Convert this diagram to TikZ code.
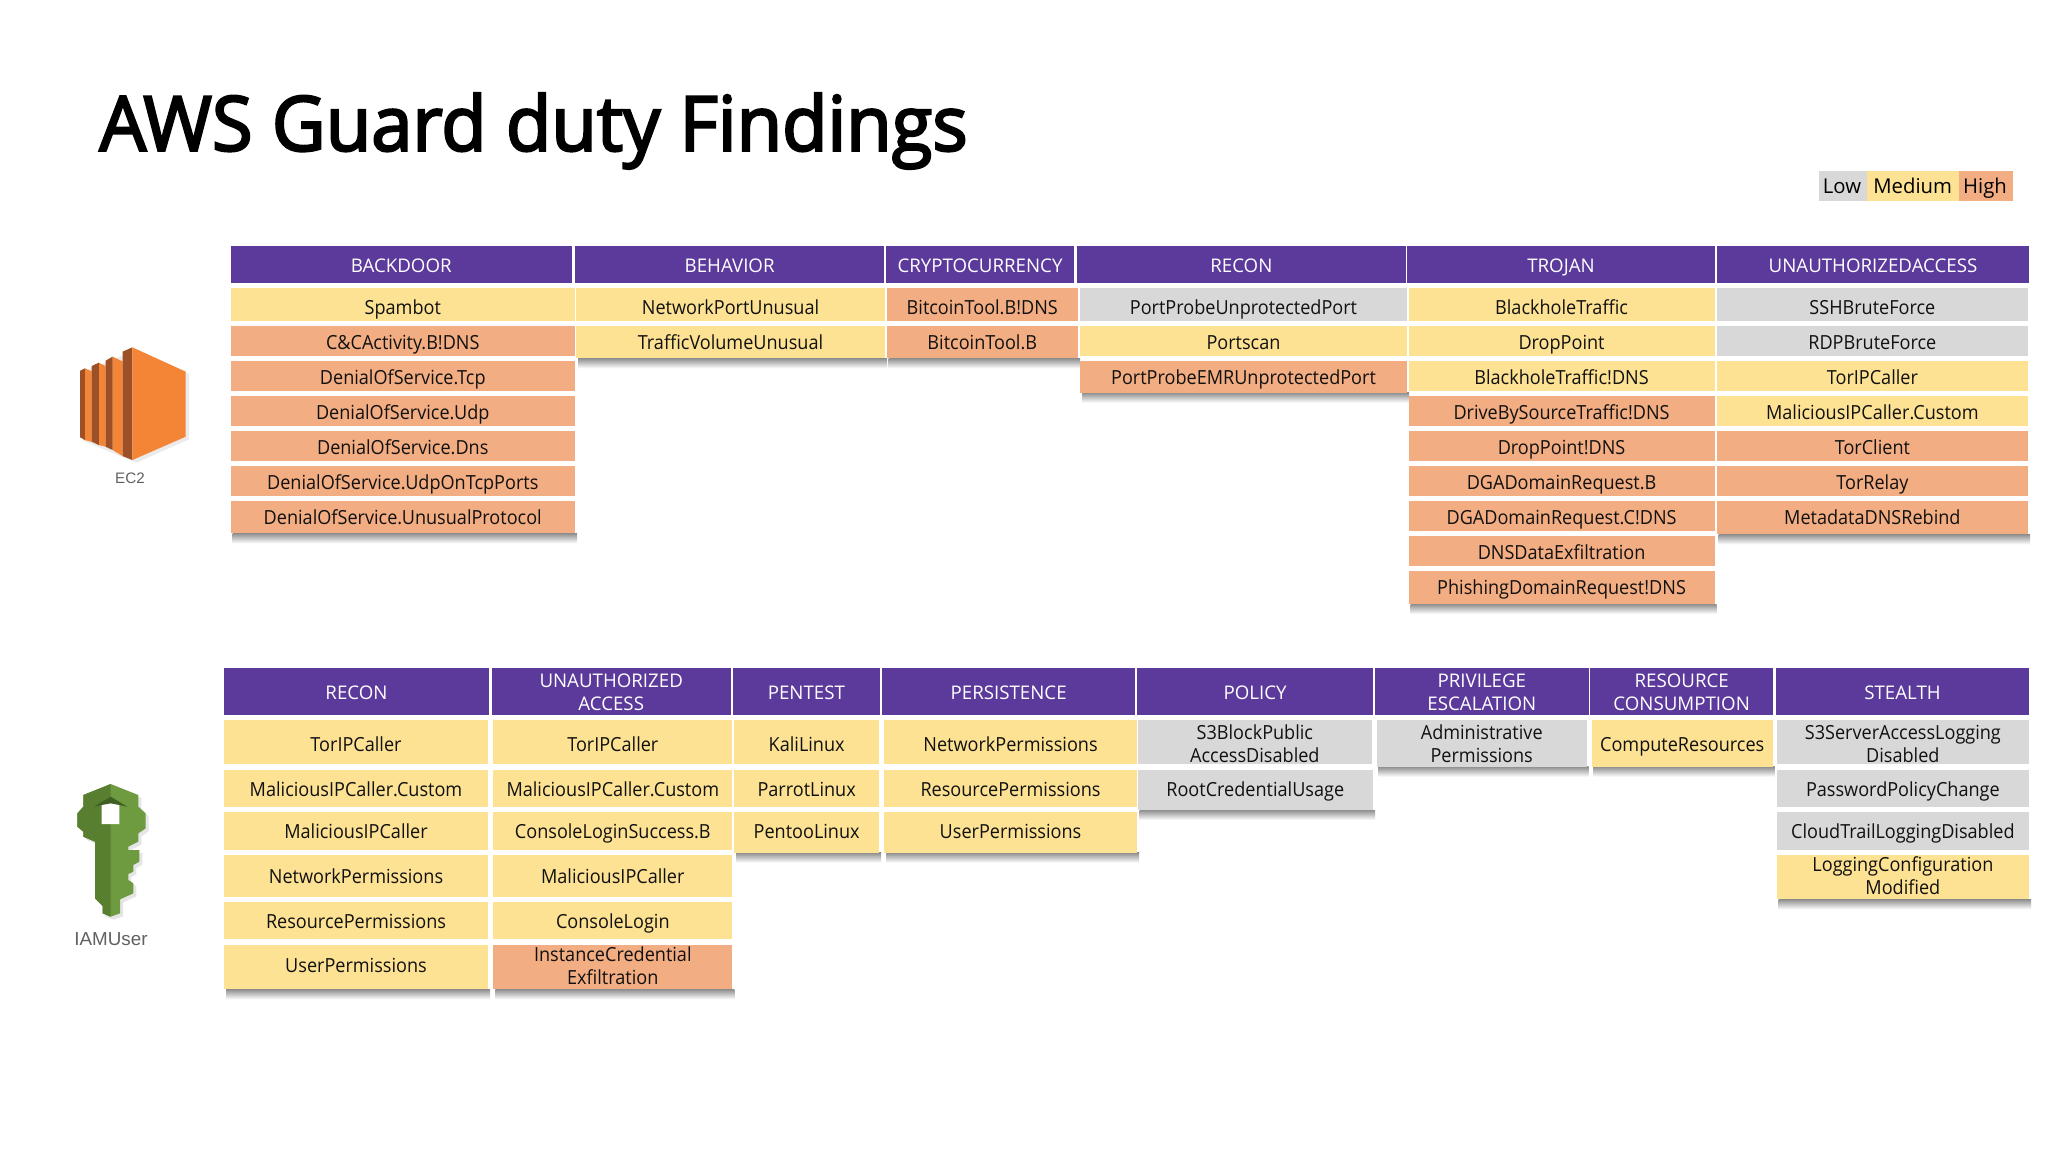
\documentclass[tikz,border=0pt]{standalone}
\usepackage{fontspec}
\setmainfont{Open Sans}[FakeStretch=0.93]
\newfontfamily\titlefont{Open Sans}[FakeStretch=0.975,FakeBold=3]
\newfontfamily\widefont{Open Sans}[FakeStretch=0.995]
\newfontfamily\iconfont{Liberation Sans}
\definecolor{hdr}{HTML}{5C3A9C}
\definecolor{low}{HTML}{D8D8D9}
\definecolor{med}{HTML}{FDE293}
\definecolor{high}{HTML}{F3AD82}
\definecolor{ink}{HTML}{111111}
\definecolor{ecface}{HTML}{F58536}
\definecolor{ecdark}{HTML}{9D5025}
\definecolor{keylight}{HTML}{6E9B3F}
\definecolor{keydark}{HTML}{577F2F}
\definecolor{keyshade}{HTML}{3F5F23}
\tikzset{
  hdrtext/.style={anchor=base,inner sep=0pt,align=center,text=white,font=\widefont\fontsize{9.4}{11.5}\selectfont},
  celltext/.style={anchor=base,inner sep=0pt,align=center,text=ink,font=\fontsize{9.72}{11.4}\selectfont},
  legendtext/.style={anchor=base,inner sep=0pt,text=black,font=\widefont\fontsize{10.2}{12}\selectfont},
  icontext/.style={anchor=base,inner sep=0pt,text=black!62,font=\iconfont\fontsize{#1}{#1}\selectfont},
}
% name, x1, x2, top, bottom, last-line baseline, text
\newcommand{\Hdr}[7]{%
  \fill[hdr] (#2,#4) rectangle (#3,#5);
  \node[hdrtext] (#1) at ({(#2+#3)/2},#6) {#7};}
% shadow under x1--x2 at y
\newcommand{\Shadow}[3]{%
  \shade[top color=black!44,bottom color=white] (#1+2,#3) rectangle (#2+2,#3+10);}
% name, x1, x2, last colour, last bottom, rows
\newcommand{\TopCol}[6]{%
  \Shadow{#2}{#3}{#5}
  \fill[#4] (#2,#5-6) rectangle (#3,#5);
  \foreach \idx/\clr/\lbl in {#6}{%
    \pgfmathsetmacro{\ya}{{288.3,326,361,396,431,466,501,536,571}[\idx-1]}
    \pgfmathsetmacro{\yb}{{321,356,391,426,461,496,531,566,601}[\idx-1]}
    \pgfmathsetmacro{\yc}{{314.3,349.3,384.3,419.3,454.3,489.3,524.3,559.3,594.3}[\idx-1]}
    \fill[\clr] (#2,\ya) rectangle (#3,\yb);
    \node[celltext] (#1-\idx) at ({(#2+#3)/2},\yc) {\lbl};
  }}
\newcommand{\BotCol}[6]{%
  \Shadow{#2}{#3}{#5}
  \fill[#4] (#2,#5-6) rectangle (#3,#5);
  \foreach \idx/\clr/\lbl in {#6}{%
    \pgfmathsetmacro{\ya}{{720,769.7,812,855,902,945}[\idx-1]}
    \pgfmathsetmacro{\yb}{{764.3,806.7,850,896.7,939,989.3}[\idx-1]}
    \pgfmathsetmacro{\yc}{{751,796,838.3,883.3,928.3,972.7}[\idx-1]}
    \fill[\clr] (#2,\ya) rectangle (#3,\yb);
    \node[celltext] (#1-\idx) at ({(#2+#3)/2},\yc) {\lbl};
  }}
% name, x1, x2, colour, top, bottom, last-line baseline, two lines
\newcommand{\TwoLine}[8]{%
  \fill[#4] (#2,#5) rectangle (#3,#6);
  \node[celltext] (#1) at ({(#2+#3)/2},#7) {#8};}
\begin{document}
\begin{tikzpicture}[x=0.5pt,y=-0.5pt]
\useasboundingbox (0,0) rectangle (2048,1152);
\fill[white] (0,0) rectangle (2048,1152);

\node[anchor=base west,inner sep=0pt,text=black,font=\titlefont\fontsize{38}{38}\selectfont] (title) at (99,150.7) {AWS Guard duty Findings};

% legend
\fill[low] (1819,170.7) rectangle (1867,201);
\fill[med] (1867,170.7) rectangle (1959,201);
\fill[high] (1959,170.7) rectangle (2012.7,201);
\node[legendtext] (lgLow) at (1842,193.3) {Low};
\node[legendtext] (lgMed) at (1912.7,193.3) {Medium};
\node[legendtext] (lgHigh) at (1985,193.3) {High};

% top headers
\Hdr{hBack}{230.5}{572}{245.7}{283.3}{272}{BACKDOOR}
\Hdr{hBeh}{575}{884.3}{245.7}{283.3}{272}{BEHAVIOR}
\Hdr{hCry}{886}{1074}{245.7}{283.3}{272}{CRYPTOCURRENCY}
\Hdr{hRec}{1077}{1405.7}{245.7}{283.3}{272}{RECON}
\Hdr{hTro}{1407}{1715}{245.7}{283.3}{272}{TROJAN}
\Hdr{hUna}{1717}{2029}{245.7}{283.3}{272}{UNAUTHORIZEDACCESS}

% top columns
\TopCol{back}{230.5}{575}{high}{533.3}{1/med/Spambot,2/high/C\&CActivity.B!DNS,3/high/DenialOfService.Tcp,4/high/DenialOfService.Udp,5/high/DenialOfService.Dns,6/high/DenialOfService.UdpOnTcpPorts,7/high/DenialOfService.UnusualProtocol}
\TopCol{beh}{576}{885}{med}{358.3}{1/med/NetworkPortUnusual,2/med/TrafficVolumeUnusual}
\TopCol{cry}{886.5}{1078}{high}{358.3}{1/high/BitcoinTool.B!DNS,2/high/BitcoinTool.B}
\TopCol{rec}{1080}{1407}{high}{392.7}{1/low/PortProbeUnprotectedPort,2/med/Portscan,3/high/PortProbeEMRUnprotectedPort}
\TopCol{tro}{1408.5}{1714.6}{high}{604}{1/med/BlackholeTraffic,2/med/DropPoint,3/med/BlackholeTraffic!DNS,4/high/DriveBySourceTraffic!DNS,5/high/DropPoint!DNS,6/high/DGADomainRequest.B,7/high/DGADomainRequest.C!DNS,8/high/DNSDataExfiltration,9/high/PhishingDomainRequest!DNS}
\TopCol{una}{1716.7}{2028}{high}{534.3}{1/low/SSHBruteForce,2/low/RDPBruteForce,3/med/TorIPCaller,4/med/MaliciousIPCaller.Custom,5/high/TorClient,6/high/TorRelay,7/high/MetadataDNSRebind}

% bottom headers
\Hdr{bhRec}{224}{489}{668}{715.3}{699.3}{RECON}
\Hdr{bhUna}{491.7}{730.7}{668}{715.3}{710.3}{UNAUTHORIZED\\ACCESS}
\Hdr{bhPen}{732.7}{880}{668}{715.3}{699.3}{PENTEST}
\Hdr{bhPer}{882.3}{1135}{668}{715.3}{699.3}{PERSISTENCE}
\Hdr{bhPol}{1136.7}{1373.3}{668}{715.3}{699.3}{POLICY}
\Hdr{bhPri}{1375}{1588.7}{668}{715.3}{710.3}{PRIVILEGE\\ESCALATION}
\Hdr{bhRes}{1590}{1773.3}{668}{715.3}{710.3}{RESOURCE\\CONSUMPTION}
\Hdr{bhSte}{1775.7}{2029.3}{668}{715.3}{699.3}{STEALTH}

% bottom columns
\BotCol{brec}{224}{488}{med}{989.3}{1/med/TorIPCaller,2/med/MaliciousIPCaller.Custom,3/med/MaliciousIPCaller,4/med/NetworkPermissions,5/med/ResourcePermissions,6/med/UserPermissions}
\BotCol{buna}{493.3}{732.3}{high}{989.3}{1/med/TorIPCaller,2/med/MaliciousIPCaller.Custom,3/med/ConsoleLoginSuccess.B,4/med/MaliciousIPCaller,5/med/ConsoleLogin}
\TwoLine{buna-6}{493.3}{732.3}{high}{945}{989.3}{984.3}{InstanceCredential\\Exfiltration}
\BotCol{bpen}{734.3}{879}{med}{852.7}{1/med/KaliLinux,2/med/ParrotLinux,3/med/PentooLinux}
\BotCol{bper}{884}{1137}{med}{852.7}{1/med/NetworkPermissions,2/med/ResourcePermissions,3/med/UserPermissions}
\BotCol{bpol}{1137.5}{1373}{low}{810}{2/low/RootCredentialUsage}
\TwoLine{bpol-1}{1138}{1371.7}{low}{720}{764.3}{762.7}{S3BlockPublic\\AccessDisabled}
\Shadow{1376.7}{1586.7}{766.7}
\TwoLine{bpri-1}{1376.7}{1586.7}{low}{720}{766.7}{762.7}{Administrative\\Permissions}
\Shadow{1591.7}{1772.7}{766.7}
\fill[med] (1591.7,720) rectangle (1772.7,766.7);
\node[celltext] (bres-1) at ({(1591.7+1772.7)/2},751.7) {ComputeResources};
\BotCol{bste}{1776.7}{2029}{med}{899.3}{2/low/PasswordPolicyChange,3/low/CloudTrailLoggingDisabled}
\TwoLine{bste-1}{1776.7}{2029}{low}{720}{764.3}{762.7}{S3ServerAccessLogging\\Disabled}
\TwoLine{bste-4}{1776.7}{2029}{med}{855}{899.3}{894.3}{LoggingConfiguration\\Modified}

% EC2 icon (crop coordinates)
\begin{scope}[x=0.1976pt,y=-0.16667pt,yshift=-115pt]
  \fill[black!8] (210,425) -- (345,360) -- (478,432) -- (478,628) -- (345,698) -- (210,632) -- cycle;
  \fill[ecface] (215,415) -- (232,424) -- (232,636) -- (215,630) -- cycle;
  \fill[ecdark] (203,422) -- (215,415) -- (215,630) -- (203,622) -- cycle;
  \fill[ecface] (250,398) -- (267,408) -- (267,650) -- (250,645) -- cycle;
  \fill[ecdark] (232,408) -- (250,398) -- (250,645) -- (232,635) -- cycle;
  \fill[ecface] (285,380) -- (310,394) -- (310,678) -- (285,660) -- cycle;
  \fill[ecdark] (267,392) -- (285,380) -- (285,660) -- (267,650) -- cycle;
  \fill[ecdark] (310,365) -- (335,352) -- (335,690) -- (310,678) -- cycle;
  \fill[ecface] (335,352) -- (470,425) -- (470,620) -- (335,690) -- cycle;
\end{scope}
\node[icontext=7.6] (ec2) at (130,483.3) {EC2};

% IAM key icon (crop coordinates)
\begin{scope}[x=0.16667pt,y=-0.16667pt,yshift=-325pt]
  \def\keyshape{(332,402) -- (415,435) -- (415,470) -- (437,490) -- (437,535) -- (415,550) -- (415,575) -- (385,590) -- (385,600) -- (418,600) -- (418,635) -- (400,645) -- (400,665) -- (385,672) -- (385,690) -- (400,700) -- (400,730) -- (360,748) -- (360,790) -- (332,800) -- (308,790) -- (308,768) -- (285,745) -- (285,575) -- (250,560) -- (250,545) -- (232,530) -- (232,490) -- (250,470) -- (250,435) -- cycle}
  \fill[black!10,xshift=1.5pt,yshift=-1.5pt] \keyshape;
  \fill[keylight] \keyshape;
  \begin{scope}
    \clip (200,380) rectangle (332,820);
    \fill[keydark] \keyshape;
  \end{scope}
  \fill[white] (305,465) -- (332,445) -- (358,465) -- (358,522) -- (305,522) -- cycle;
  \fill[keyshade] (282,470) -- (332,440) -- (382,470) -- (358,465) -- (332,460) -- (305,465) -- cycle;
\end{scope}
\node[icontext=9.4] (iam) at (111,945) {IAMUser};
\end{tikzpicture}
\end{document}
